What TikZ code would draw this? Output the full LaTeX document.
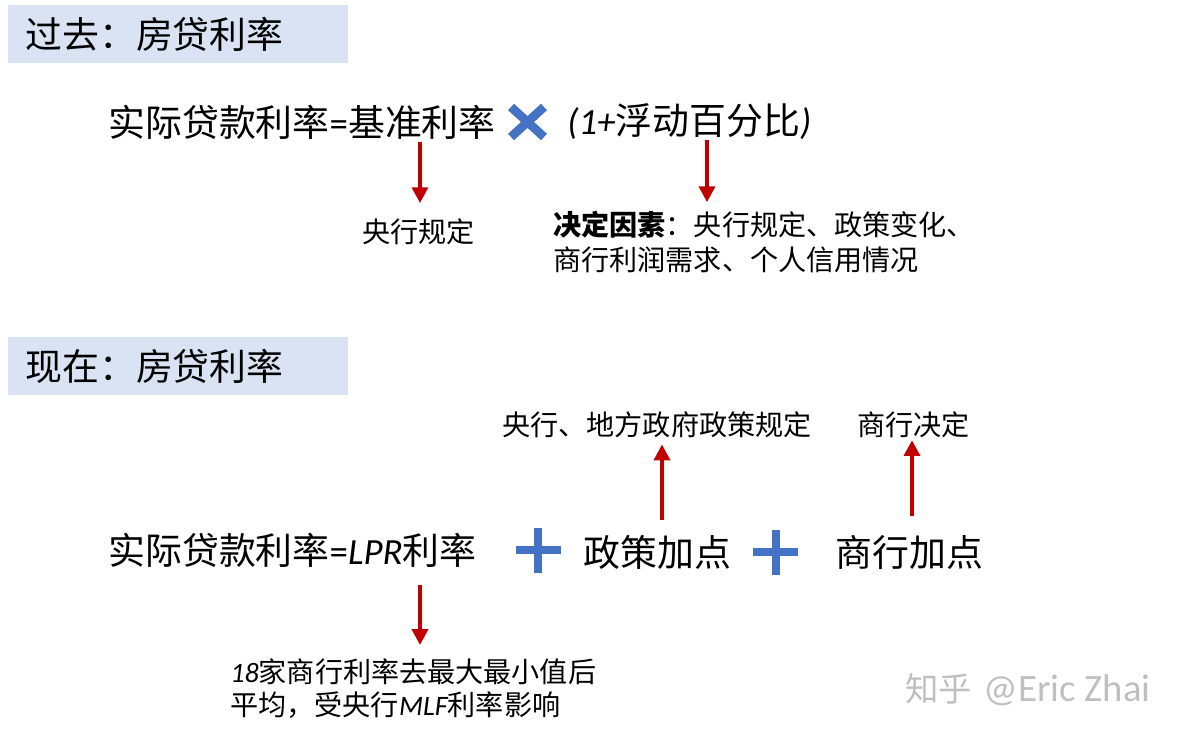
\documentclass[tikz,border=0pt]{standalone}
\usepackage{fontspec}
\setmainfont{Noto Sans CJK SC}
\newfontfamily\latf{Carlito}
\usetikzlibrary{arrows.meta}
\definecolor{hdrblue}{HTML}{DAE3F3}
\definecolor{arrred}{HTML}{C00000}
\definecolor{signblue}{HTML}{4472C4}
\newcommand{\lat}[1]{{\latf\itshape #1}}

\begin{document}
\begin{tikzpicture}[
  x=0.02cm,y=-0.02cm,
  hdr/.style={rectangle,fill=hdrblue,anchor=north west,inner xsep=0.34cm,inner ysep=0pt,
    text width=6.12cm,minimum height=1.16cm,align=left,font=\fontsize{21}{25}\selectfont},
  big/.style={anchor=west,inner sep=0pt,font=\fontsize{21}{25}\selectfont},
  small/.style={anchor=north west,inner sep=0pt,align=left,font=\fontsize{16}{19.5}\selectfont},
  redarr/.style={-{Triangle[length=9pt,width=9pt]},line width=2.2pt,draw=arrred},
  sign/.style={line width=4pt,draw=signblue}
]
\useasboundingbox (0,0) rectangle (1200,743);
% section headers
\node[hdr] (pasthdr) at (8,5) {过去：房贷利率};
\node[hdr] (nowhdr) at (8,337) {现在：房贷利率};
% past: base rate times (1 + float)
\node[big] (oldrate) at (108,122) {实际贷款利率{\latf =}基准利率};
\draw[sign,line width=5pt] (511,107) -- (544,137) (544,107) -- (511,137);
\node[big] (factor) at (567,122) {\lat{(1+}浮动百分比\lat{)}};
\node[small] (rule) at (362,218) {央行规定};
\node[small] (drivers) at (553,211) {\textbf{决定因素}：央行规定、政策变化、\\商行利润需求、个人信用情况};
\coordinate (basedown) at (420,142);
\coordinate (floatdown) at (707,140);
\draw[redarr,shorten >=8.5pt] (basedown) -- (basedown |- rule.north);
\draw[redarr,shorten >=5pt] (floatdown) -- (floatdown |- drivers.north);
% now: LPR + policy spread + bank spread
\node[big] (newrate) at (108,550) {实际贷款利率{\latf =}\lat{LPR}利率};
\draw[sign] (516,550) -- (561,550) (538,528) -- (538,573);
\node[big] (policy) at (583,552) {政策加点};
\draw[sign] (753,552) -- (798,552) (776,530) -- (776,575);
\node[big] (bank) at (835,552) {商行加点};
\node[small,anchor=west] (gov) at (502,425) {央行、地方政府政策规定};
\node[small,anchor=west] (bankset) at (857,425) {商行决定};
\coordinate (polup) at (662,520);
\coordinate (bankup) at (912,516);
\draw[redarr,shorten >=3.4pt] (polup) -- (polup |- gov.south);
\draw[redarr,shorten >=1pt] (bankup) -- (bankup |- bankset.south);
\node[small,font=\fontsize{16}{18.7}\selectfont] (lprnote) at (230,658)
  {\lat{18}家商行利率去最大最小值后\\平均，受央行\lat{MLF}利率影响};
\coordinate (lprdown) at (420,585);
\draw[redarr,shorten >=7.4pt] (lprdown) -- (lprdown |- lprnote.north);
% watermark
\node[anchor=west,inner sep=0pt,text=black!25,font=\fontsize{19}{22}\selectfont] (mark) at (905,690)
  {知乎\hspace{0.35em}{\latf\fontsize{22}{24}\selectfont @Eric Zhai}};
\end{tikzpicture}
\end{document}
